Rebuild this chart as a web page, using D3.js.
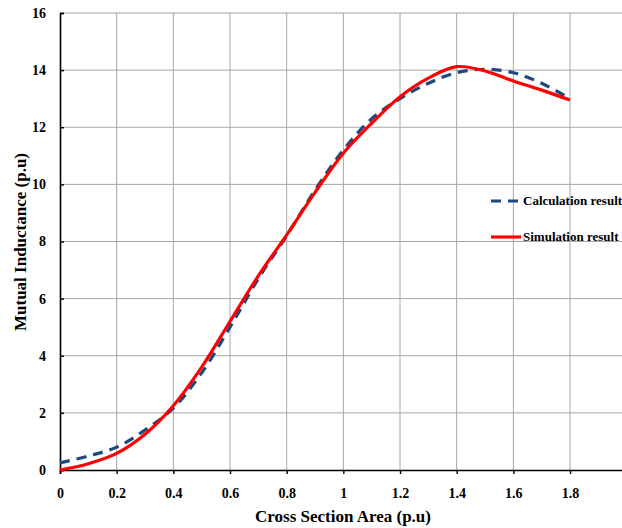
<!DOCTYPE html>
<html>
<head>
<meta charset="utf-8">
<script src="https://cdn.jsdelivr.net/npm/d3@7"></script>
<style>
  body { margin: 0; background: #fff; }
  svg { display: block; }
  text { font-family: "Liberation Serif", "Times New Roman", serif; font-weight: bold; fill: #000; }
</style>
</head>
<body>
<svg id="chart" width="622" height="528"></svg>
<script>
// data
const xValues = [0, 0.1, 0.2, 0.3, 0.4, 0.5, 0.6, 0.7, 0.8, 0.9, 1.0, 1.1, 1.2, 1.3, 1.4, 1.5, 1.6, 1.7, 1.8];
const calcValues = [0.25, 0.49, 0.8, 1.4, 2.17, 3.4, 5.0, 6.7, 8.2, 9.8, 11.2, 12.3, 13.0, 13.54, 13.91, 14.03, 13.91, 13.54, 13.0];
const simValues = [0, 0.22, 0.58, 1.25, 2.25, 3.6, 5.2, 6.8, 8.23, 9.72, 11.09, 12.14, 13.07, 13.72, 14.12, 13.97, 13.62, 13.3, 12.95];
const xTicks = [0, 0.2, 0.4, 0.6, 0.8, 1, 1.2, 1.4, 1.6, 1.8, 2];
const yTicks = [0, 2, 4, 6, 8, 10, 12, 14, 16];
const legendLabels = ["Calculation result", "Simulation result"];

const svg = d3.select("#chart");
const x = d3.scaleLinear().domain([0, 2]).range([60, 626.7]);
const y = d3.scaleLinear().domain([0, 16]).range([470, 13]);

// grid
const grid = svg.append("g").attr("class", "grid");
grid.selectAll("line.v")
  .data(xTicks.filter((d) => d > 0))
  .enter()
  .append("line")
  .attr("x1", (d) => x(d)).attr("x2", (d) => x(d))
  .attr("y1", y(0)).attr("y2", y(16))
  .attr("stroke", "#a6a6a6").attr("stroke-width", 1);
grid.selectAll("line.h")
  .data(yTicks.filter((d) => d > 0))
  .enter()
  .append("line")
  .attr("x1", x(0)).attr("x2", x(2))
  .attr("y1", (d) => y(d)).attr("y2", (d) => y(d))
  .attr("stroke", "#a6a6a6").attr("stroke-width", 1);

// axes
const xAxis = svg.append("g")
  .attr("transform", `translate(0,${y(0)})`)
  .call(d3.axisBottom(x).tickValues(xTicks).tickSize(4).tickPadding(14).tickFormat(d3.format("")));
const yAxis = svg.append("g")
  .attr("transform", `translate(${x(0)},0)`)
  .call(d3.axisLeft(y).tickValues(yTicks).tickSize(-4).tickPadding(14));
[xAxis, yAxis].forEach((a) => {
  a.select(".domain").attr("stroke", "#000").attr("stroke-width", 1.6);
  a.selectAll(".tick line").attr("stroke", "#000").attr("stroke-width", 1.4);
  a.selectAll("text").attr("font-size", 14).attr("font-family", null);
});
xAxis.selectAll(".tick text").attr("dy", "0.71em");

// lines
const line = d3.line().curve(d3.curveCatmullRom.alpha(0.5));

svg.append("path")
  .datum(xValues.map((d, i) => [x(d), y(calcValues[i])]))
  .attr("d", line)
  .attr("fill", "none")
  .attr("stroke", "#1f497d")
  .attr("stroke-width", 3.2)
  .attr("stroke-dasharray", "10,7");

svg.append("path")
  .datum(xValues.map((d, i) => [x(d), y(simValues[i])]))
  .attr("d", line)
  .attr("fill", "none")
  .attr("stroke", "#ff0000")
  .attr("stroke-width", 3.2);

// axis titles
svg.append("text")
  .attr("x", 343).attr("y", 522)
  .attr("text-anchor", "middle")
  .attr("font-size", 17)
  .text("Cross Section Area (p.u)");
svg.append("text")
  .attr("transform", "translate(26,242) rotate(-90)")
  .attr("text-anchor", "middle")
  .attr("font-size", 17)
  .text("Mutual Inductance (p.u)");

// legend
const legend = svg.append("g");
legend.append("line")
  .attr("x1", 491).attr("x2", 521).attr("y1", 201).attr("y2", 201)
  .attr("stroke", "#1f497d").attr("stroke-width", 3.2).attr("stroke-dasharray", "10,7");
legend.append("line")
  .attr("x1", 491).attr("x2", 521).attr("y1", 237).attr("y2", 237)
  .attr("stroke", "#ff0000").attr("stroke-width", 3.2);
legend.selectAll("text")
  .data(legendLabels)
  .enter()
  .append("text")
  .attr("x", 523)
  .attr("y", (d, i) => 205 + i * 36)
  .attr("font-size", 13)
  .text((d) => d);
</script>
</body>
</html>
